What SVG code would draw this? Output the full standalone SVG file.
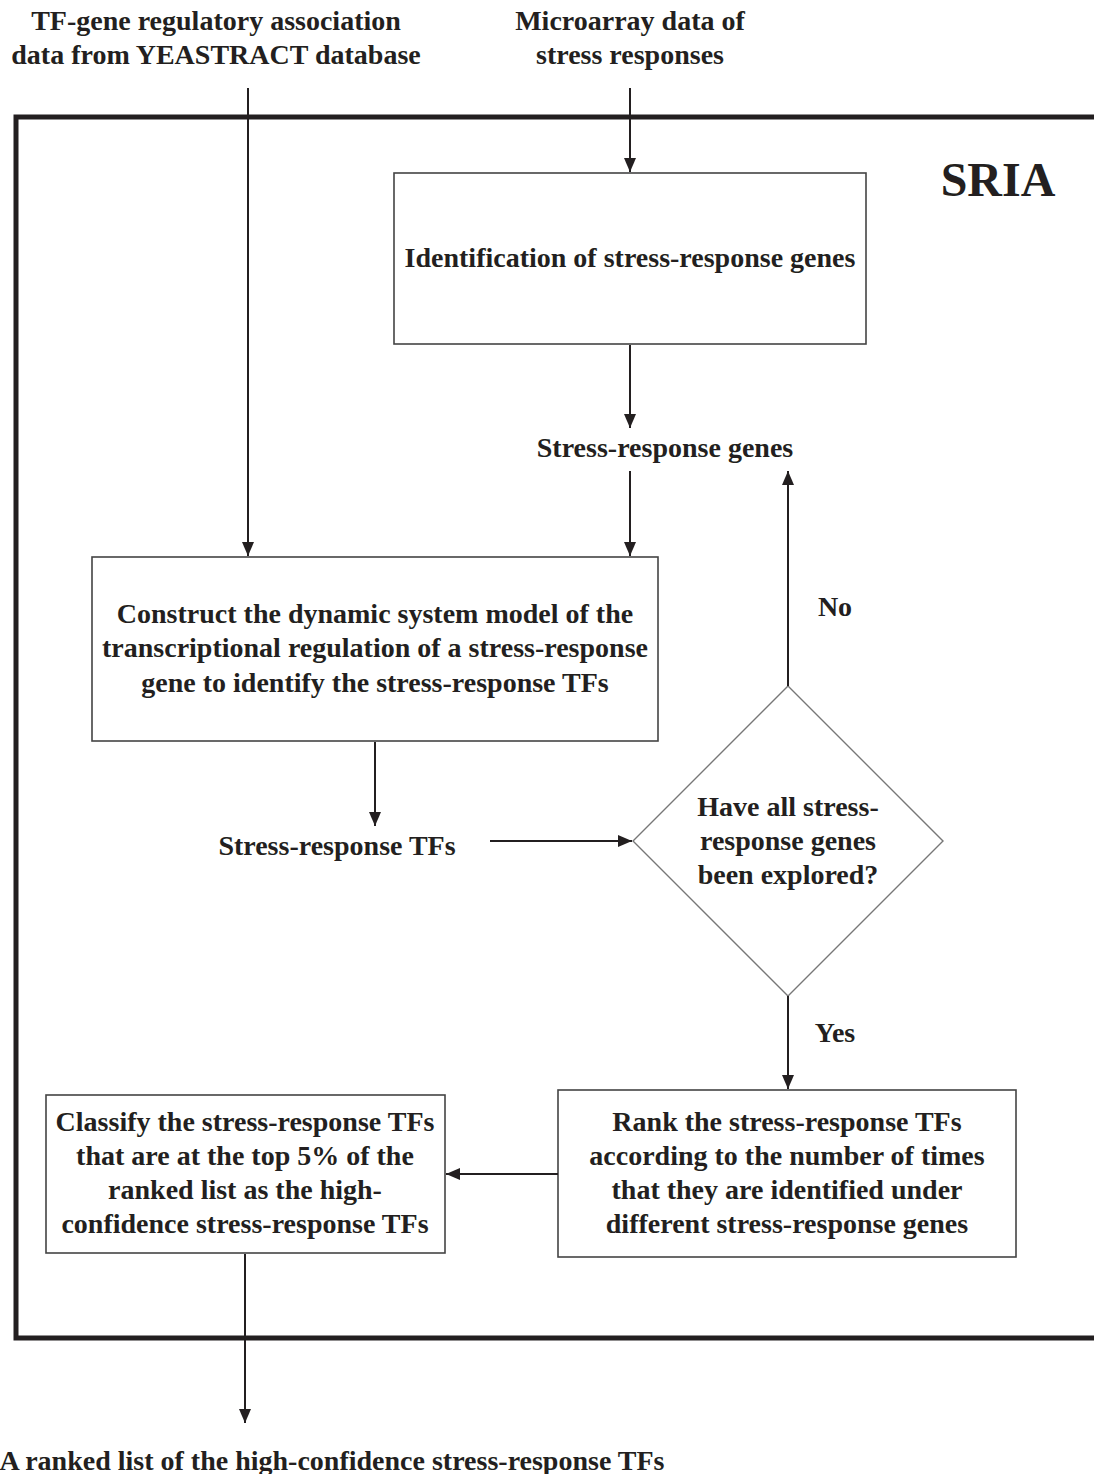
<svg xmlns="http://www.w3.org/2000/svg" width="1094" height="1474" viewBox="0 0 1094 1474">
<style>
text{font-family:"Liberation Serif","Times New Roman",serif;font-weight:bold;font-size:28px;fill:#231f20;text-anchor:middle}
.box{fill:#fff;stroke:#444;stroke-width:1.6}
.dia{fill:#fff;stroke:#777;stroke-width:1.4}
.ln{fill:none;stroke:#231f20;stroke-width:2}
.frame{fill:none;stroke:#231f20;stroke-width:5}
</style>
<defs>
<marker id="ah" markerWidth="14" markerHeight="12" refX="14" refY="6" orient="auto" markerUnits="userSpaceOnUse">
<path d="M0,0 L14,6 L0,12 Z" fill="#231f20"/>
</marker>
</defs>
<rect width="1094" height="1474" fill="#fff"/>
<g id="frame">
<path class="frame" d="M1100,117 H16 V1338 H1100"/>
<text x="998" y="196" style="font-size:48px">SRIA</text>
</g>
<g id="input-yeastract">
<text x="216" y="30">TF-gene regulatory association</text>
<text x="216" y="64">data from YEASTRACT database</text>
</g>
<g id="input-microarray">
<text x="630" y="30">Microarray data of</text>
<text x="630" y="64">stress responses</text>
</g>
<g id="identify">
<rect class="box" x="394" y="173" width="472" height="171"/>
<text x="630" y="267">Identification of stress-response genes</text>
</g>
<g id="genes">
<text x="665" y="457">Stress-response genes</text>
</g>
<g id="construct">
<rect class="box" x="92" y="557" width="566" height="184"/>
<text x="375" y="623">Construct the dynamic system model of the</text>
<text x="375" y="657">transcriptional regulation of a stress-response</text>
<text x="375" y="692">gene to identify the stress-response TFs</text>
</g>
<g id="tfs">
<text x="337" y="855">Stress-response TFs</text>
</g>
<g id="decision">
<polygon class="dia" points="788,686 943,841 788,996 633,841"/>
<text x="788" y="816">Have all stress-</text>
<text x="788" y="850">response genes</text>
<text x="788" y="884">been explored?</text>
</g>
<g id="rank">
<rect class="box" x="558" y="1090" width="458" height="167"/>
<text x="787" y="1131">Rank the stress-response TFs</text>
<text x="787" y="1165">according to the number of times</text>
<text x="787" y="1199">that they are identified under</text>
<text x="787" y="1233">different stress-response genes</text>
</g>
<g id="classify">
<rect class="box" x="46" y="1095" width="399" height="158"/>
<text x="245" y="1131">Classify the stress-response TFs</text>
<text x="245" y="1165">that are at the top 5% of the</text>
<text x="245" y="1199">ranked list as the high-</text>
<text x="245" y="1233">confidence stress-response TFs</text>
</g>
<g id="output">
<text x="332" y="1470">A ranked list of the high-confidence stress-response TFs</text>
</g>
<g id="connectors">
<line class="ln" x1="248" y1="88" x2="248" y2="556" marker-end="url(#ah)"/>
<line class="ln" x1="630" y1="88" x2="630" y2="172" marker-end="url(#ah)"/>
<line class="ln" x1="630" y1="345" x2="630" y2="428" marker-end="url(#ah)"/>
<line class="ln" x1="630" y1="471" x2="630" y2="556" marker-end="url(#ah)"/>
<line class="ln" x1="375" y1="742" x2="375" y2="826" marker-end="url(#ah)"/>
<line class="ln" x1="490" y1="841" x2="632" y2="841" marker-end="url(#ah)"/>
<line class="ln" x1="788" y1="686" x2="788" y2="471" marker-end="url(#ah)"/>
<text x="835" y="616">No</text>
<line class="ln" x1="788" y1="996" x2="788" y2="1089" marker-end="url(#ah)"/>
<text x="835" y="1042">Yes</text>
<line class="ln" x1="558" y1="1174" x2="446" y2="1174" marker-end="url(#ah)"/>
<line class="ln" x1="245" y1="1254" x2="245" y2="1423" marker-end="url(#ah)"/>
</g>
</svg>
